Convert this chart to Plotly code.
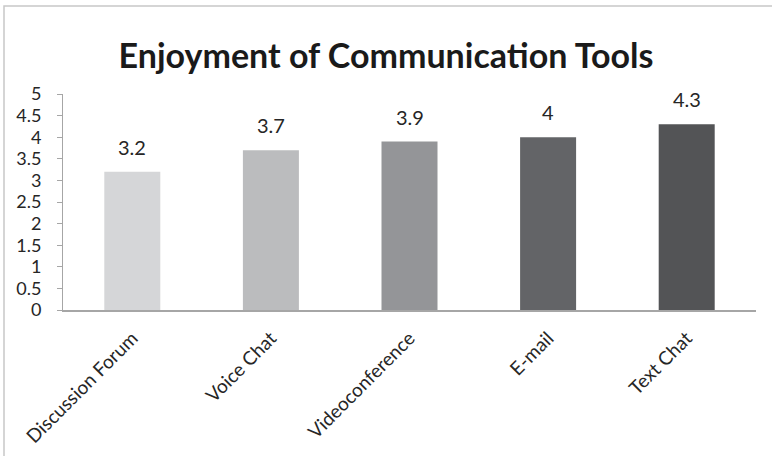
import plotly.graph_objects as go

categories = ["Discussion Forum", "Voice Chat", "Videoconference", "E-mail", "Text Chat"]
values = [3.2, 3.7, 3.9, 4, 4.3]
labels = ["3.2", "3.7", "3.9", "4", "4.3"]
colors = ["#d5d6d8", "#bbbcbe", "#949598", "#636467", "#535456"]
yticks = [0, 0.5, 1, 1.5, 2, 2.5, 3, 3.5, 4, 4.5, 5]
yticklabels = ["0", "0.5", "1", "1.5", "2", "2.5", "3", "3.5", "4", "4.5", "5"]

FONT = "Lato, 'Open Sans', sans-serif"

fig = go.Figure(go.Bar(
    x=categories, y=values, marker=dict(color=colors, line=dict(width=0)),
))

for c, v, t in zip(categories, values, labels):
    fig.add_annotation(x=c, y=v, text=t, showarrow=False, yanchor="bottom",
                       yshift=11, font=dict(family=FONT, size=20, color="#262626"))

L, R, T, B = 63, 16, 94, 146
W, H = 772, 456
pw, ph = W - L - R, H - T - B

fig.update_layout(
    width=W, height=H, margin=dict(l=L, r=R, t=T, b=B, autoexpand=False),
    paper_bgcolor="white", plot_bgcolor="white",
    bargap=0.596, showlegend=False,
    title=dict(text="<b>Enjoyment of Communication Tools</b>", x=0.5, xanchor="center",
               y=1 - 56 / H, yanchor="middle",
               font=dict(family=FONT, size=34, color="#1a1a1a")),
    xaxis=dict(tickangle=-45, showline=True, linecolor="#a6a6a6", linewidth=1.5,
               ticks="", showgrid=False, ticklabelstandoff=8, automargin=False,
               tickfont=dict(family=FONT, size=19, color="#262626")),
    yaxis=dict(range=[0, 5], tickvals=yticks, ticktext=yticklabels, showline=True,
               linecolor="#a6a6a6", linewidth=1, ticks="outside", ticklen=5,
               tickcolor="#a6a6a6", showgrid=False, zeroline=False,
               ticklabelstandoff=12, automargin=False,
               tickfont=dict(family=FONT, size=18, color="#262626")),
    shapes=[dict(type="rect", xref="paper", yref="paper",
                 x0=(4 - L) / pw, x1=(780 - L) / pw,
                 y0=(310 - 470) / ph, y1=(310 - 6) / ph,
                 line=dict(color="#c8c8c8", width=1.5), layer="below")],
)

fig.write_html("out.html")
